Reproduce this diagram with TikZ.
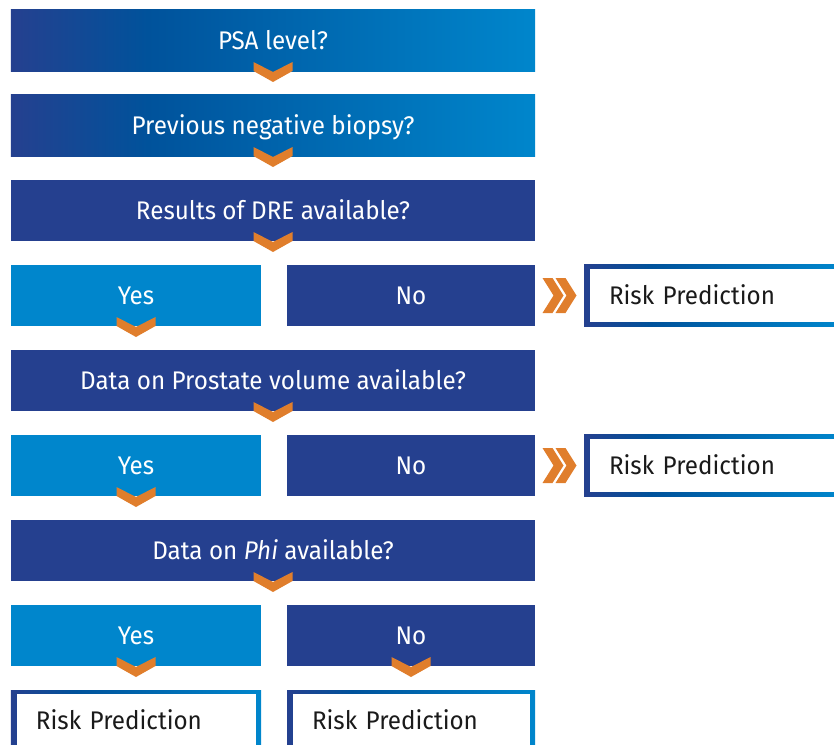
\documentclass[tikz,border=0pt]{standalone}
\usepackage{fontspec}
\setmainfont[FakeStretch=0.95]{Fira Sans}
\usetikzlibrary{calc}
\definecolor{navy}{HTML}{25408F}
\definecolor{midblue}{HTML}{00529B}
\definecolor{skyblue}{HTML}{0086CC}
\definecolor{chevorange}{HTML}{E07E2C}
\definecolor{riskblack}{HTML}{1A1A1A}
\pgfdeclarehorizontalshading{bluegrad}{100bp}{color(0bp)=(navy); color(25bp)=(navy); color(38bp)=(midblue); color(75bp)=(skyblue); color(100bp)=(skyblue)}
\newcommand\mainfnt{\fontsize{25.5bp}{30bp}\selectfont}
\tikzset{
  basebox/.style={inner sep=0pt, outer sep=0pt, minimum height=61bp, text height=17.8bp, text depth=0bp, font=\mainfnt, text=white},
  qbox/.style={basebox, fill=navy, minimum width=524bp},
  gradbox/.style={basebox, shading=bluegrad, minimum width=524bp},
  yesbox/.style={basebox, fill=skyblue, minimum width=250bp},
  nobox/.style={basebox, fill=navy, minimum width=248bp},
  riskbox/.style={inner ysep=0pt, inner xsep=25bp, outer sep=0pt, minimum height=62bp, text height=17.8bp, text depth=0bp, font=\mainfnt, text=riskblack, align=left, shading=bluegrad,
    path picture={\fill[white] ([xshift=6bp,yshift=-4bp]path picture bounding box.north west) rectangle ([xshift=-5bp,yshift=5bp]path picture bounding box.south east);}},
  chev/.style={fill=chevorange},
  chevdown/.pic={\fill[chev] (-19.5,-9) -- (0,1) -- (19.5,-9) -- (19.5,0) -- (0,11) -- (-19.5,0) -- cycle;},
  dchev/.pic={\foreach \d in {-6.5,6.5}{\fill[chev] (\d-10.5,-17.5) -- (\d-0.5,-17.5) -- (\d+10.5,0) -- (\d-0.5,17.5) -- (\d-10.5,17.5) -- (\d+0.5,0) -- cycle;}}
}
\begin{document}
\begin{tikzpicture}[x=1bp,y=-1bp]
\useasboundingbox (0,0) rectangle (834,745);
\clip (0,0) rectangle (834,745);
\node[gradbox] (psa) at (273,40.5) {PSA level?};
\node[gradbox] (prev) at (273,125.5) {Previous negative biopsy?};
\node[qbox] (dre) at (273,210.5) {Results of DRE available?};
\node[yesbox] (yes1) at (136,295.5) {Yes};
\node[nobox] (no1) at (411,295.5) {No};
\node[riskbox, text width=206bp] (risk1) at (712,295.5) {Risk Prediction};
\node[qbox] (vol) at (273,380.5) {Data on Prostate volume available?};
\node[yesbox] (yes2) at (136,465.5) {Yes};
\node[nobox] (no2) at (411,465.5) {No};
\node[riskbox, text width=206bp] (risk2) at (712,465.5) {Risk Prediction};
\node[qbox] (phi) at (273,550.5) {Data on \textit{Phi} available?};
\node[yesbox] (yes3) at (136,635.5) {Yes};
\node[nobox] (no3) at (411,635.5) {No};
\node[riskbox, text width=200bp] (risk3) at (136,721) {Risk Prediction};
\node[riskbox, text width=198bp] (risk4) at (411,721) {Risk Prediction};
\pic at (psa.south) {chevdown};
\pic at (prev.south) {chevdown};
\pic at (dre.south) {chevdown};
\pic at (yes1.south) {chevdown};
\pic at (vol.south) {chevdown};
\pic at (yes2.south) {chevdown};
\pic at (phi.south) {chevdown};
\pic at (yes3.south) {chevdown};
\pic at (no3.south) {chevdown};
\pic at ($(no1.east)!0.5!(risk1.west)$) {dchev};
\pic at ($(no2.east)!0.5!(risk2.west)$) {dchev};
\end{tikzpicture}
\end{document}
